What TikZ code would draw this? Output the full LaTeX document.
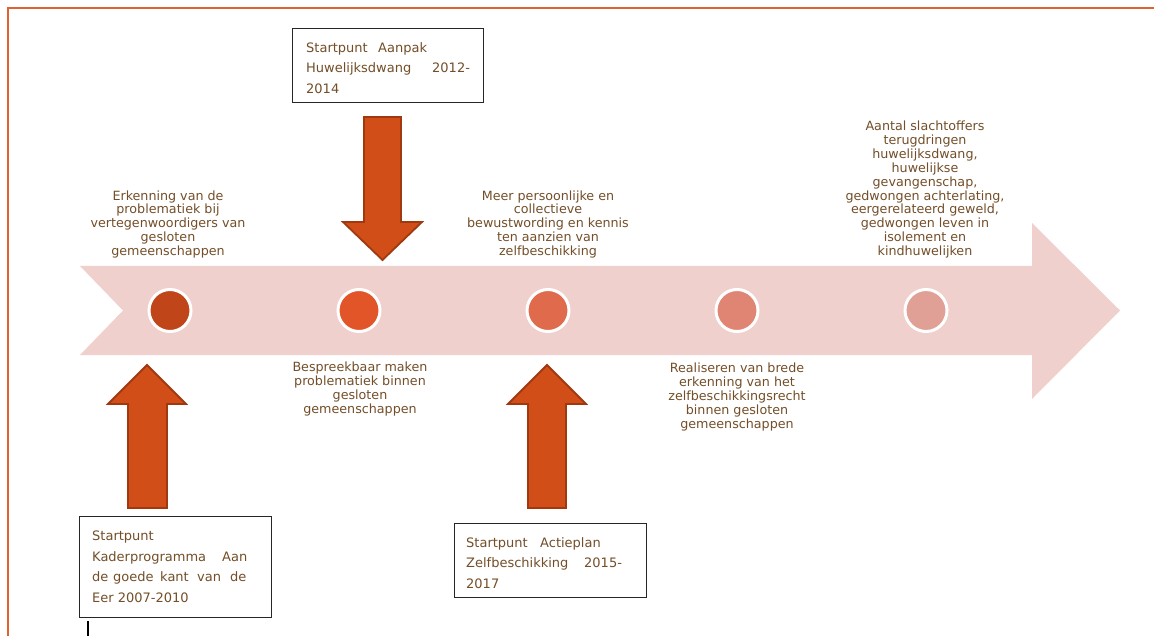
\documentclass[tikz,border=0pt]{standalone}
\usepackage{fontspec}
\newfontfamily\vf{DejaVu Sans}
\definecolor{frame}{RGB}{224,98,48}
\definecolor{band}{RGB}{240,208,205}
\definecolor{cA}{RGB}{192,70,26}
\definecolor{cB}{RGB}{225,85,40}
\definecolor{cC}{RGB}{224,106,76}
\definecolor{cD}{RGB}{224,133,115}
\definecolor{cE}{RGB}{225,160,150}
\definecolor{arrfill}{RGB}{210,78,25}
\definecolor{arrline}{RGB}{160,56,16}
\definecolor{txt}{RGB}{115,78,40}
\tikzset{
  dot/.style={circle, draw=white, line width=3pt, minimum size=42pt, inner sep=0pt},
  blockarrow/.style={fill=arrfill, draw=arrline, line width=1.8pt, line join=miter},
  boxframe/.style={draw=black!85, line width=1.1pt, fill=white, inner sep=0pt, anchor=north west},
  boxtext/.style={inner sep=0pt, anchor=north west, align=left, text=txt, font={\vf\fontsize{13}{20.7}\selectfont}},
  lbl/.style={inner sep=0pt, align=center, text=txt, font={\vf\fontsize{12.7}{13.9}\selectfont}}
}
\begin{document}
\begin{tikzpicture}[x=1pt,y=-1pt]
\useasboundingbox (0,0) rectangle (1154,636);
% frame
\draw[frame, line width=2pt] (8,636) -- (8,8) -- (1154,8);
% big timeline arrow
\fill[band] (80,266) -- (1032,266) -- (1032,223) -- (1120,310.5) -- (1032,399) -- (1032,355) -- (80,355) -- (123,310.5) -- cycle;
% milestones
\node[dot, fill=cA] (m1) at (170,310.5) {};
\node[dot, fill=cB] (m2) at (359,310.5) {};
\node[dot, fill=cC] (m3) at (548,310.5) {};
\node[dot, fill=cD] (m4) at (737,310.5) {};
\node[dot, fill=cE] (m5) at (926,310.5) {};
% labels above
\node[lbl, anchor=south] (l1) at (168,258.5) {Erkenning van de\\problematiek bij\\vertegenwoordigers van\\gesloten\\gemeenschappen};
\node[lbl, anchor=south] (l3) at (548,258.5) {Meer persoonlijke en\\collectieve\\bewustwording en kennis\\ten aanzien van\\zelfbeschikking};
\node[lbl, anchor=south] (l5) at (925,258.5) {Aantal slachtoffers\\terugdringen\\huwelijksdwang,\\huwelijkse\\gevangenschap,\\gedwongen achterlating,\\eergerelateerd geweld,\\gedwongen leven in\\isolement en\\kindhuwelijken};
% labels below
\node[lbl, anchor=north] (l2) at (360,362) {Bespreekbaar maken\\problematiek binnen\\gesloten\\gemeenschappen};
\node[lbl, anchor=north] (l4) at (737,363) {Realiseren van brede\\erkenning van het\\zelfbeschikkingsrecht\\binnen gesloten\\gemeenschappen};
% block arrows
\draw[blockarrow] (364,117) -- (401,117) -- (401,222) -- (422,222) -- (382.5,260) -- (343,222) -- (364,222) -- cycle;
\draw[blockarrow] (128,508) -- (167,508) -- (167,404) -- (186,404) -- (147,365) -- (108,404) -- (128,404) -- cycle;
\draw[blockarrow] (528,508) -- (566,508) -- (566,404) -- (586,404) -- (547,365) -- (508,404) -- (528,404) -- cycle;
% boxes
\node[boxframe, minimum width=191pt, minimum height=74pt] (b1) at (292,28) {};
\node[boxtext] (b1t) at (306,42) {\makebox[72pt][l]{Startpunt}Aanpak\\\makebox[126pt][l]{Huwelijksdwang}2012-\\2014};
\node[boxframe, minimum width=192pt, minimum height=101pt] (b2) at (79,516) {};
\node[boxtext] (b2t) at (92,530.5) {Startpunt\\\makebox[130pt][l]{Kaderprogramma}Aan\\\makebox[21pt][l]{de}\makebox[47pt][l]{goede}\makebox[37pt][l]{kant}\makebox[33pt][l]{van}de\\Eer 2007-2010};
\node[boxframe, minimum width=192pt, minimum height=74pt] (b3) at (454,523) {};
\node[boxtext] (b3t) at (466,537) {\makebox[74pt][l]{Startpunt}Actieplan\\\makebox[118pt][l]{Zelfbeschikking}2015-\\2017};
% stub line below first box
\coordinate (stub) at (88,636);
\draw[black, line width=1.5pt] ([xshift=9pt,yshift=-3pt]b2.south west) -- (stub);
\end{tikzpicture}
\end{document}
